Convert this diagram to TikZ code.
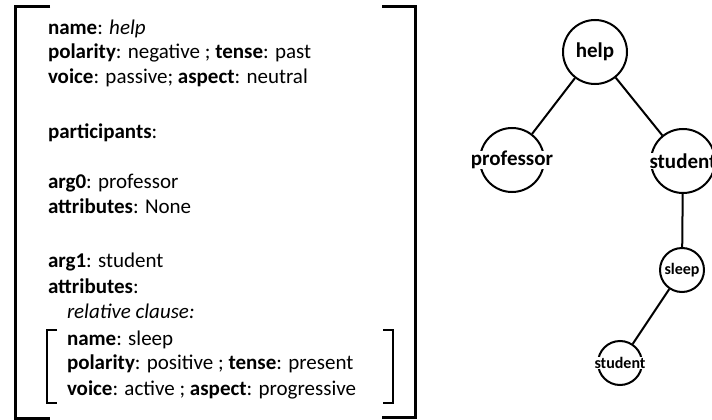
\documentclass[tikz,border=0pt]{standalone}
\usepackage{fontspec}
\setmainfont{Carlito}
\usetikzlibrary{positioning}

\tikzset{
    txt/.style = {anchor = base west, inner sep = 0pt, font = \fontsize{21}{25}\selectfont},
    brk/.style = {line width = 3pt},
    ibrk/.style = {line width = 2.5pt},
    vert/.style = {draw, circle, inner sep = 0pt, minimum size = 64pt},
    svert/.style = {draw, circle, inner sep = 0pt, minimum size = 44pt},
    lbl/.style = {fill = white, inner sep = 0.5pt, font = \fontsize{21}{25}\selectfont\bfseries},
    slbl/.style = {fill = white, inner sep = 0.5pt, font = \fontsize{16}{19}\selectfont\bfseries}
}

\begin{document}
\begin{tikzpicture} [x = 1pt, y = -1pt, line width = 2pt]
        \useasboundingbox (0,0) rectangle (712,420);
        \clip (0,0) rectangle (712,420);

        % feature structure
        \draw [brk] (50,7) -- (15,7) -- (15,418) -- (50,418);
        \draw [brk] (382,7) -- (415,7) -- (415,417) -- (382,417);
        \draw [ibrk] (57,330) -- (47,330) -- (47,403) -- (57,403);
        \draw [ibrk] (383,330) -- (393,330) -- (393,403) -- (383,403);

        \node [txt] (name1) at (47,35) {\textbf{name}: \textit{help}};
        \node [txt] (pol1) at (47,59) {\textbf{polarity}: negative ; \textbf{tense}: past};
        \node [txt] (voice1) at (47,83) {\textbf{voice}: passive; \textbf{aspect}: neutral};
        \node [txt] (parts) at (47,138) {\textbf{participants}:};
        \node [txt] (arg0) at (47,188) {\textbf{arg0}: professor};
        \node [txt] (attr0) at (47,213) {\textbf{attributes}: None};
        \node [txt] (arg1) at (47,267) {\textbf{arg1}: student};
        \node [txt] (attr1) at (47,293) {\textbf{attributes}:};
        \node [txt] (rel) at (66,318) {\textit{relative clause:}};
        \node [txt] (name2) at (66,345) {\textbf{name}: sleep};
        \node [txt] (pol2) at (66,369) {\textbf{polarity}: positive ; \textbf{tense}: present};
        \node [txt] (voice2) at (66,395) {\textbf{voice}: active ; \textbf{aspect}: progressive};

        % tree
        \node [vert] (help) at (595,52) {};
        \node [vert] (prof) at (512,160) {};
        \node [vert] (stud) at (683,161) {};
        \node [svert] (sleep) at (682,270) {};
        \node [svert] (stud2) at (620,363) {};

        \path (help) edge (prof);
        \path (help) edge (stud);
        \path (stud) edge (sleep);
        \path (sleep) edge (stud2);

        \node [lbl] (helpl) at (help) {help};
        \node [lbl] (profl) at (prof) {professor};
        \node [lbl] (studl) at (stud) {student};
        \node [slbl] (sleepl) at (sleep) {sleep};
        \node [slbl] (stud2l) at (stud2) {student};

    \end{tikzpicture}
\end{document}
